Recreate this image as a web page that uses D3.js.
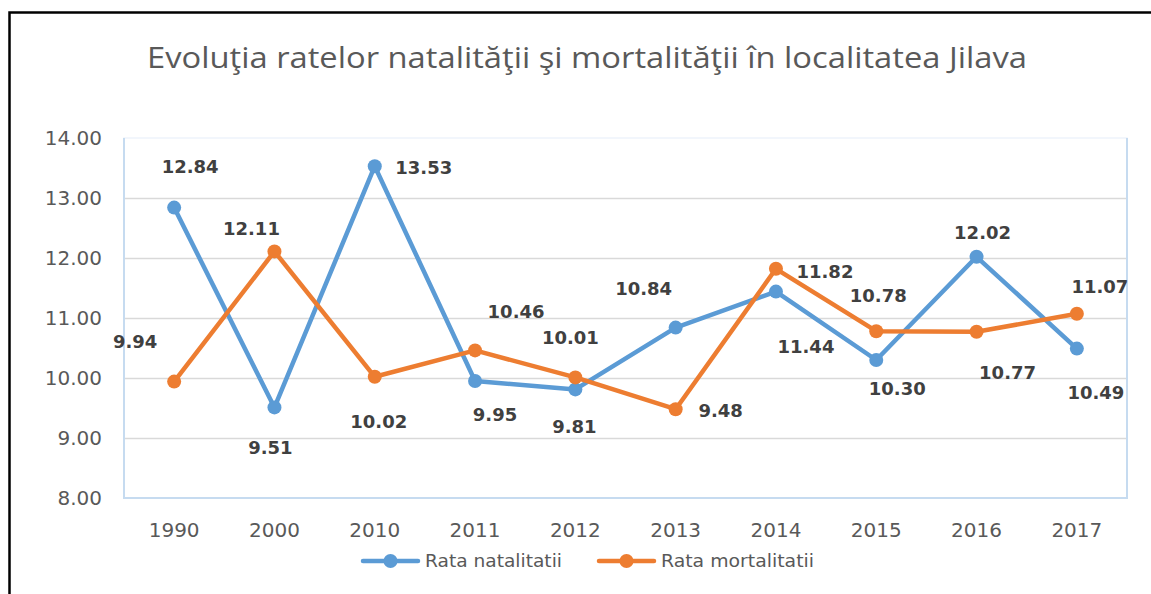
<!DOCTYPE html>
<html>
<head>
<meta charset="utf-8">
<script src="https://cdn.jsdelivr.net/npm/d3@7"></script>
<style>
  body { margin: 0; background: #fff; }
</style>
</head>
<body>
<div id="chart"></div>
<script>
const years = ["1990", "2000", "2010", "2011", "2012", "2013", "2014", "2015", "2016", "2017"];
const natalitate = [12.84, 9.51, 13.53, 9.95, 9.81, 10.84, 11.44, 10.30, 12.02, 10.49];
const mortalitate = [9.94, 12.11, 10.02, 10.46, 10.01, 9.48, 11.82, 10.78, 10.77, 11.07];
const yTicks = [8, 9, 10, 11, 12, 13, 14];

// manual label placement (pixel offsets from the point), as in the original
const natOffsets = [[16, -41], [-4, 40], [49, 1], [20, 34], [-1, 37], [-32, -39], [30, 55], [21, 29], [6, -24], [19, 44]];
const mortOffsets = [[-39, -40], [-23, -23], [4, 45], [41, -39], [-5, -40], [45, 1], [49, 3], [2, -36], [31, 41], [23, -27]];

const width = 1151, height = 594;
const margin = { left: 124, right: 24, top: 138, bottom: 96 };

const svg = d3.select("#chart").append("svg")
  .attr("width", width)
  .attr("height", height)
  .style("font-family", "'DejaVu Sans', sans-serif");

// outer frame
svg.append("rect")
  .attr("x", 9.5).attr("y", 12.5)
  .attr("width", width + 20).attr("height", height + 20)
  .attr("fill", "none")
  .attr("stroke", "#000")
  .attr("stroke-width", 2.5);

const x = d3.scaleBand()
  .domain(years)
  .range([margin.left, width - margin.right]);

const y = d3.scaleLinear()
  .domain([8, 14])
  .range([height - margin.bottom, margin.top]);

// title
svg.append("text")
  .attr("x", 147).attr("y", 68)
  .attr("textLength", 880)
  .attr("lengthAdjust", "spacingAndGlyphs")
  .attr("font-family", "'Open Sans', sans-serif")
  .attr("font-size", 30)
  .attr("fill", "#595959")
  .text("Evoluţia ratelor natalităţii şi mortalităţii în localitatea Jilava");

// gridlines
svg.append("g")
  .selectAll("line")
  .data(yTicks.filter(d => d > 8 && d < 14))
  .join("line")
    .attr("x1", margin.left).attr("x2", width - margin.right)
    .attr("y1", d => y(d) + 0.5).attr("y2", d => y(d) + 0.5)
    .attr("stroke", "#d9d9d9")
    .attr("stroke-width", 1.5);

// plot area border
svg.append("rect")
  .attr("x", margin.left).attr("y", margin.top)
  .attr("width", width - margin.left - margin.right)
  .attr("height", height - margin.top - margin.bottom)
  .attr("fill", "none")
  .attr("stroke", "#eef4fb")
  .attr("stroke-width", 1.5);
svg.append("path")
  .attr("d", `M${margin.left},${margin.top}V${y(8)}H${width - margin.right}V${margin.top}`)
  .attr("fill", "none")
  .attr("stroke", "#c6dbf0")
  .attr("stroke-width", 2);

// y axis
const yAxis = svg.append("g")
  .attr("transform", `translate(${margin.left},0)`)
  .call(d3.axisLeft(y).tickValues(yTicks).tickFormat(d3.format(".2f")).tickSize(0).tickPadding(22));
yAxis.select(".domain").remove();
yAxis.selectAll("text")
  .attr("font-size", 20)
  .attr("font-family", "'DejaVu Sans', sans-serif")
  .attr("fill", "#595959");

// x axis
const xAxis = svg.append("g")
  .attr("transform", `translate(0,${y(8)})`)
  .call(d3.axisBottom(x).tickSize(0).tickPadding(25));
xAxis.select(".domain").remove();
xAxis.selectAll("text")
  .attr("font-size", 20)
  .attr("font-family", "'DejaVu Sans', sans-serif")
  .attr("fill", "#595959");

const cx = d => x(d) + x.bandwidth() / 2;

const series = [
  { name: "Rata natalitatii", values: natalitate, color: "#5b9bd5", offsets: natOffsets },
  { name: "Rata mortalitatii", values: mortalitate, color: "#ed7d31", offsets: mortOffsets }
];

const line = d3.line()
  .x((d, i) => cx(years[i]))
  .y(d => y(d));

series.forEach(s => {
  const g = svg.append("g");
  g.append("path")
    .datum(s.values)
    .attr("d", line)
    .attr("fill", "none")
    .attr("stroke", s.color)
    .attr("stroke-width", 4.5)
    .attr("stroke-linejoin", "round");
  g.selectAll("circle")
    .data(s.values)
    .join("circle")
      .attr("cx", (d, i) => cx(years[i]))
      .attr("cy", d => y(d))
      .attr("r", 7)
      .attr("fill", s.color);
});

// data labels on top
series.forEach(s => {
  svg.append("g")
    .selectAll("text")
    .data(s.values)
    .join("text")
      .attr("x", (d, i) => cx(years[i]) + s.offsets[i][0])
      .attr("y", (d, i) => y(d) + s.offsets[i][1])
      .attr("dy", "0.36em")
      .attr("text-anchor", "middle")
      .attr("font-size", 18)
      .attr("font-weight", "bold")
      .attr("fill", "#404040")
      .text(d => d.toFixed(2));
});

// legend
const legendItems = [
  { x: 363, tx: 425, tw: 137 },
  { x: 599, tx: 661, tw: 153 }
];
const legend = svg.append("g");
series.forEach((s, i) => {
  const it = legendItems[i];
  legend.append("line")
    .attr("x1", it.x).attr("x2", it.x + 55)
    .attr("y1", 561).attr("y2", 561)
    .attr("stroke", s.color)
    .attr("stroke-width", 4.5)
    .attr("stroke-linecap", "round");
  legend.append("circle")
    .attr("cx", it.x + 27.5).attr("cy", 561)
    .attr("r", 7)
    .attr("fill", s.color);
  legend.append("text")
    .attr("x", it.tx).attr("y", 567)
    .attr("textLength", it.tw)
    .attr("lengthAdjust", "spacingAndGlyphs")
    .attr("font-size", 18)
    .attr("fill", "#595959")
    .text(s.name);
});
</script>
</body>
</html>
